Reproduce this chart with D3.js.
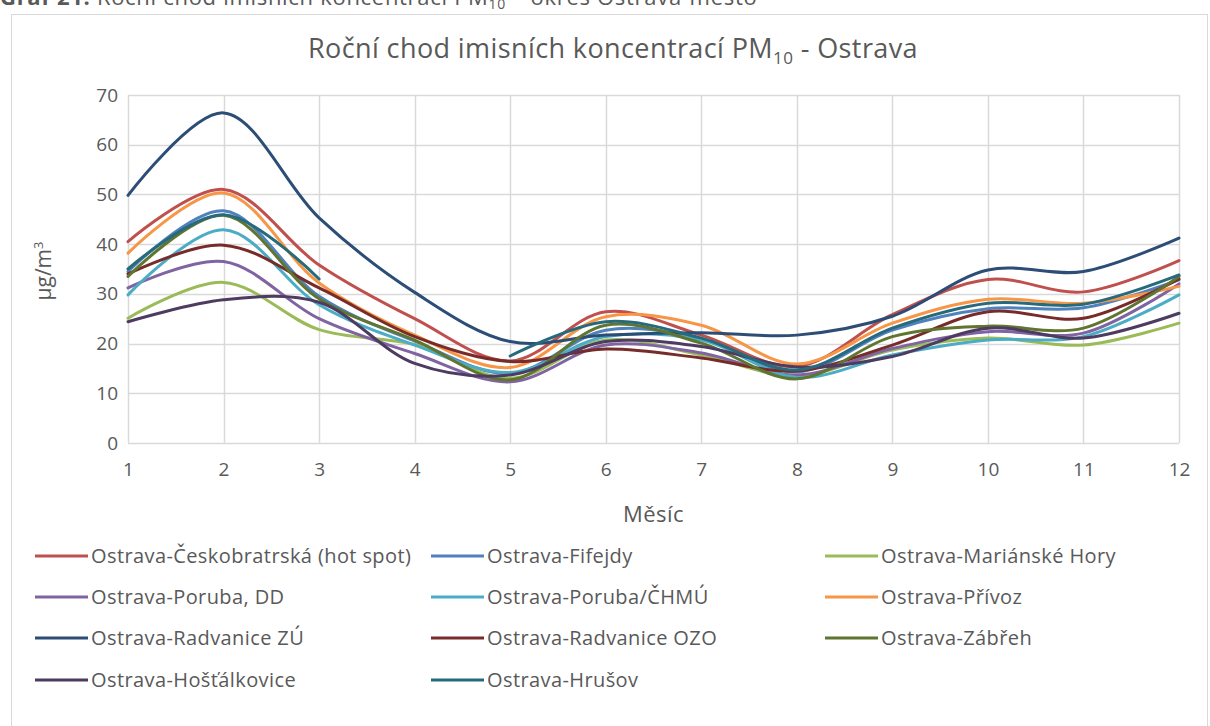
<!DOCTYPE html>
<html><head><meta charset="utf-8">
<script src="https://cdn.jsdelivr.net/npm/d3@7"></script>
<style>
html,body{margin:0;padding:0;background:#fff;overflow:hidden}
svg text{font-family:"Open Sans",Lato,sans-serif;fill:#595959}
</style></head>
<body><svg id="c" width="1210" height="726"></svg>
<script>
const months = [1,2,3,4,5,6,7,8,9,10,11,12];
const yTicks = [0,10,20,30,40,50,60,70];
const seriesNames = ["Ostrava-Českobratrská (hot spot)","Ostrava-Fifejdy","Ostrava-Mariánské Hory","Ostrava-Poruba, DD","Ostrava-Poruba/ČHMÚ","Ostrava-Přívoz","Ostrava-Radvanice ZÚ","Ostrava-Radvanice OZO","Ostrava-Zábřeh","Ostrava-Hošťálkovice","Ostrava-Hrušov"];
const ceskobratrska = [40.5,51.0,35.8,25.0,16.5,26.4,21.7,15.4,25.8,32.9,30.4,36.7];
const fifejdy       = [34.5,46.7,29.5,20.5,14.0,22.7,21.0,14.3,22.7,27.0,27.2,32.8];
const marianske     = [25.1,32.3,22.8,19.8,13.0,20.7,17.7,13.5,18.7,21.1,19.7,24.1];
const porubaDD      = [31.2,36.5,25.0,18.0,12.3,19.7,18.1,13.7,19.0,22.4,22.1,32.0];
const porubaCHMU    = [29.8,42.9,27.8,19.7,14.2,21.4,20.7,13.2,17.7,20.7,21.4,29.8];
const privoz        = [38.2,50.3,32.2,21.7,15.2,25.4,23.7,15.9,24.1,28.9,28.1,31.5];
const radvaniceZU   = [49.8,66.4,45.3,30.3,20.4,21.7,22.2,21.7,25.5,34.8,34.5,41.2];
const radvaniceOZO  = [34.0,39.8,31.2,21.4,16.4,18.9,17.1,14.5,19.7,26.4,25.1,33.0];
const zabreh        = [33.5,45.8,29.0,20.7,12.7,23.7,20.1,12.9,21.4,23.5,23.1,33.5];
const hostalkovice  = [24.4,28.8,28.3,16.0,13.7,20.4,19.4,15.3,17.4,23.1,21.1,26.1];
const hrusov        = [35.0,45.9,33.0,null,17.5,24.4,21.1,14.7,23.1,28.1,27.9,33.8];
const seriesValues = [ceskobratrska,fifejdy,marianske,porubaDD,porubaCHMU,privoz,radvaniceZU,radvaniceOZO,zabreh,hostalkovice,hrusov];
const colors = ["#C0504D","#4F81BD","#9BBB59","#8064A2","#4BACC6","#F79646","#2C4D75","#772C2A","#5F7530","#4D3B62","#276A7C"];

const svg = d3.select("#c");
const L=128,R=1179,T=95,B=443;
const x = d3.scaleLinear().domain([1,12]).range([L,R]);
const y = d3.scaleLinear().domain([0,70]).range([B,T]);

// caption (partly cut at top, as in the source document)
const cap = svg.append("text").attr("x",0).attr("y",5).attr("font-size",22).attr("letter-spacing",0.7).attr("fill","#222");
cap.append("tspan").attr("font-weight","bold").text("Graf 21:");
cap.append("tspan").text(" Roční chod imisních koncentrací PM");
cap.append("tspan").attr("font-size",14).attr("dy",4).text("10");
cap.append("tspan").attr("dy",-4).text(" – okres Ostrava-město");

// chart frame
svg.append("rect").attr("x",11.5).attr("y",14.5).attr("width",1196).attr("height",730)
  .attr("fill","#fff").attr("stroke","#d9d9d9").attr("stroke-width",1);

// title
const title = svg.append("text").attr("x",613).attr("y",58).attr("text-anchor","middle").attr("font-size",27).attr("letter-spacing",0.4);
title.append("tspan").text("Roční chod imisních koncentrací PM");
title.append("tspan").attr("font-size",17).attr("dy",6).text("10");
title.append("tspan").attr("dy",-6).text(" - Ostrava");

// grid
const g = svg.append("g");
g.selectAll(".hg").data(yTicks).join("line")
  .attr("x1",L).attr("x2",R).attr("y1",d=>Math.round(y(d))+0.5).attr("y2",d=>Math.round(y(d))+0.5)
  .attr("stroke","#d9d9d9").attr("stroke-width",1.5);
g.selectAll(".vg").data(months).join("line")
  .attr("y1",T).attr("y2",B).attr("x1",d=>Math.round(x(d))+0.5).attr("x2",d=>Math.round(x(d))+0.5)
  .attr("stroke","#d9d9d9").attr("stroke-width",1.5);

// axes
const ya = svg.append("g").attr("transform",`translate(${L-10},0)`)
  .call(d3.axisLeft(y).tickValues(yTicks).tickSize(0).tickPadding(0));
ya.select(".domain").remove();
ya.selectAll("text").attr("font-size",19).attr("font-family","'Open Sans',sans-serif").attr("fill","#595959");
const xa = svg.append("g").attr("transform",`translate(0,${B+13})`)
  .call(d3.axisBottom(x).tickValues(months).tickFormat(d3.format("d")).tickSize(0).tickPadding(6));
xa.select(".domain").remove();
xa.selectAll("text").attr("font-size",19).attr("font-family","'Open Sans',sans-serif").attr("fill","#595959");

svg.append("text").attr("x",(L+R)/2).attr("y",522).attr("text-anchor","middle").attr("font-size",22).attr("letter-spacing",0.5).text("Měsíc");
const yt = svg.append("text").attr("transform","translate(51,271) rotate(-90)").attr("text-anchor","middle").attr("font-size",21);
yt.append("tspan").text("µg/m");
yt.append("tspan").attr("font-size",13).attr("dy",-8).text("3");

// lines
const line = d3.line().defined(d=>d[1]!=null).x(d=>x(d[0])).y(d=>y(d[1])).curve(d3.curveCatmullRom.alpha(0.5));
seriesValues.forEach((vals,i)=>{
  svg.append("path").datum(months.map((m,j)=>[m,vals[j]]))
    .attr("d",line).attr("fill","none").attr("stroke",colors[i]).attr("stroke-width",3).attr("stroke-linecap","round");
});

// legend
const colX=[35,431,825], rowY=[556,597,638,680];
seriesNames.forEach((n,i)=>{
  const cx=colX[i%3], cy=rowY[Math.floor(i/3)];
  svg.append("line").attr("x1",cx).attr("x2",cx+53).attr("y1",cy).attr("y2",cy).attr("stroke",colors[i]).attr("stroke-width",3);
  svg.append("text").attr("x",cx+56).attr("y",cy+7).attr("font-size",20).attr("letter-spacing",0.4).text(n);
});
</script></body></html>
